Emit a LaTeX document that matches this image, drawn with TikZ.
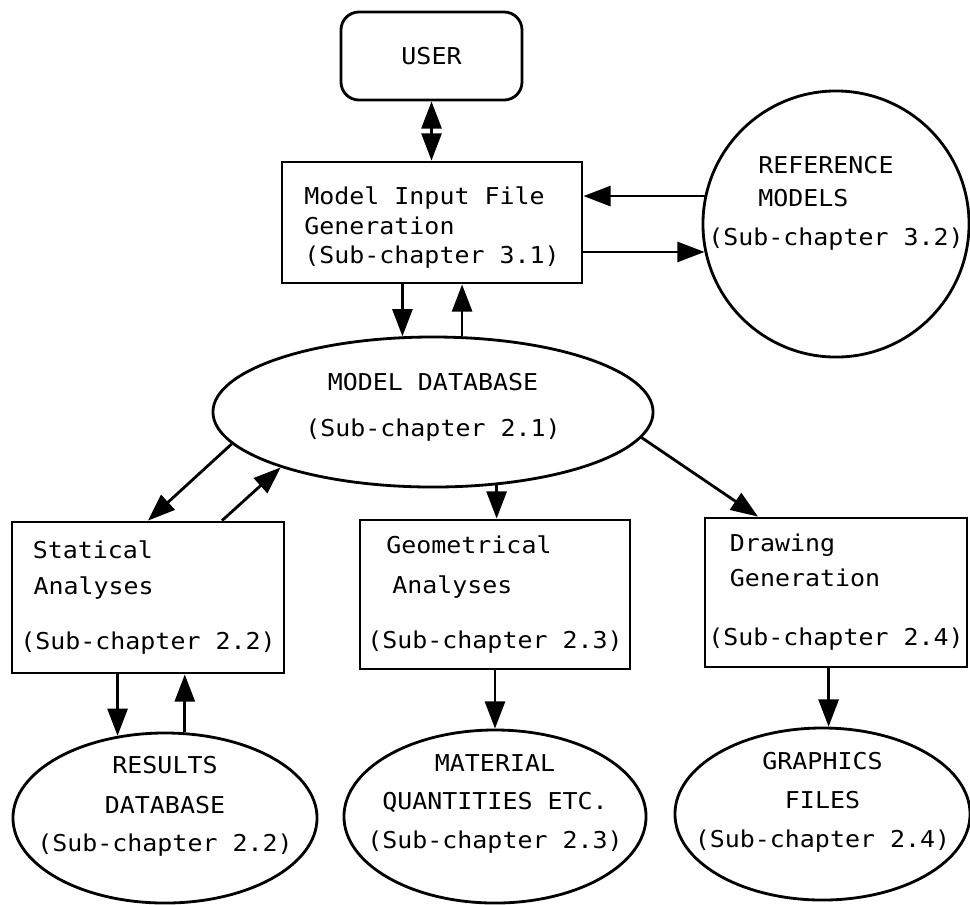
\documentclass[tikz,border=0pt]{standalone}
\usepackage{fontspec}
\setmonofont[FakeStretch=1.075]{DejaVu Sans Mono}
\usepackage{tikz}
\usetikzlibrary{arrows.meta,shapes.geometric}
\newcommand\sinkby[1]{\rule[-#1]{0pt}{#1}}
\newcommand\padtop[1]{\rule{0pt}{#1}}
\tikzset{
  flowchartpic/.style={
    x=0.025cm
    ,y=-0.025cm
    ,line width=2pt
    ,>={Triangle[length=0.68cm,width=0.5cm]}
  }
  ,plotter/.style={font=\ttfamily\fontsize{16.5}{21}\selectfont}
  ,stage/.style={plotter,draw,rectangle,align=left,inner sep=0pt}
  ,userbox/.style={plotter,draw,rectangle,rounded corners=0.45cm
    ,minimum width=4.525cm,minimum height=2.2cm}
  ,store/.style={plotter,draw,ellipse,align=center,inner sep=-2cm}
  ,library/.style={plotter,draw,circle,align=left,inner sep=-2cm
    ,minimum size=6.65cm}
}

\begin{document}
\begin{tikzpicture}[flowchartpic]
  \useasboundingbox (0,0) rectangle (970,904);
  % top part
  \node[userbox] (user) at (431.5,56) {USER};
  \node[stage,minimum width=7.5cm,minimum height=3.025cm] (mif) at (432,222.5)
    {\padtop{0.7cm}Model Input File\\
     Generation\\
     (Sub-chapter 3.1)};
  \node[library] (ref) at (836,224)
    {\hspace*{1.25cm}REFERENCE\\[0.08cm]
     \hspace*{1.25cm}MODELS\\[0.23cm]
     (Sub-chapter 3.2)\sinkby{1.15cm}};
  \node[store,minimum width=11cm,minimum height=3.75cm] (md) at (433,412)
    {MODEL DATABASE\\[0.41cm](Sub-chapter 2.1)\sinkby{0.35cm}};
  % analyses
  \node[stage,minimum width=6.8cm,minimum height=3.775cm] (stat) at (148,597.5)
    {\hspace*{0.31cm}Statical\\[0.185cm]
     \hspace*{0.33cm}Analyses\\[0.635cm]
     (Sub-chapter 2.2)};
  \node[stage,minimum width=6.75cm,minimum height=3.725cm] (geo) at (495,594.5)
    {\hspace*{0.475cm}Geometrical\\[0.26cm]
     \hspace*{0.625cm}Analyses\\[0.635cm]
     (Sub-chapter 2.3)};
  \node[stage,minimum width=6.55cm,minimum height=3.725cm] (drawgen) at (836,592.5)
    {\hspace*{0.54cm}Drawing\\[0.135cm]
     \hspace*{0.54cm}Generation\\[0.735cm]
     (Sub-chapter 2.4)};
  % outputs
  \node[store,minimum width=7.6cm,minimum height=4.25cm] (res) at (165,818)
    {RESULTS\\[0.26cm]DATABASE\\[0.21cm](Sub-chapter 2.2)\sinkby{0.7cm}};
  \node[store,minimum width=7.55cm,minimum height=4.325cm] (mat) at (495,816.5)
    {MATERIAL\\[0.21cm]QUANTITIES ETC.\\[0.23cm](Sub-chapter 2.3)\sinkby{0.75cm}};
  \node[store,minimum width=7.375cm,minimum height=4.3cm] (gfx) at (822.5,814)
    {GRAPHICS\\[0.23cm]FILES\\[0.23cm](Sub-chapter 2.4)\sinkby{0.7cm}};
  % connectors
  \draw[<->] (user.south) -- (user.south |- mif.north);
  \draw[->] (ref.168) -- (ref.168 -| mif.east);
  \draw[->] (mif.east |- ref.192) -- (ref.192);
  \draw[->] (mif.south -| md.112) -- (md.112);
  \draw[->] (md.69) -- (md.69 |- mif.south);
  \draw[->] (md.189) -- (stat.north);
  \draw[->] ([xshift=1.85cm]stat.north) -- (md.200);
  \draw[->] (md.311) -- (md.311 |- geo.north);
  \draw[->] (md.353) -- ([xshift=-1.95cm]drawgen.north);
  \draw[->] (res.120 |- stat.south) -- (res.120);
  \draw[->] (res.77) -- (res.77 |- stat.south);
  \draw[->] (geo.south) -- (mat.north);
  \draw[->] (gfx.86 |- drawgen.south) -- (gfx.86);
\end{tikzpicture}
\end{document}
